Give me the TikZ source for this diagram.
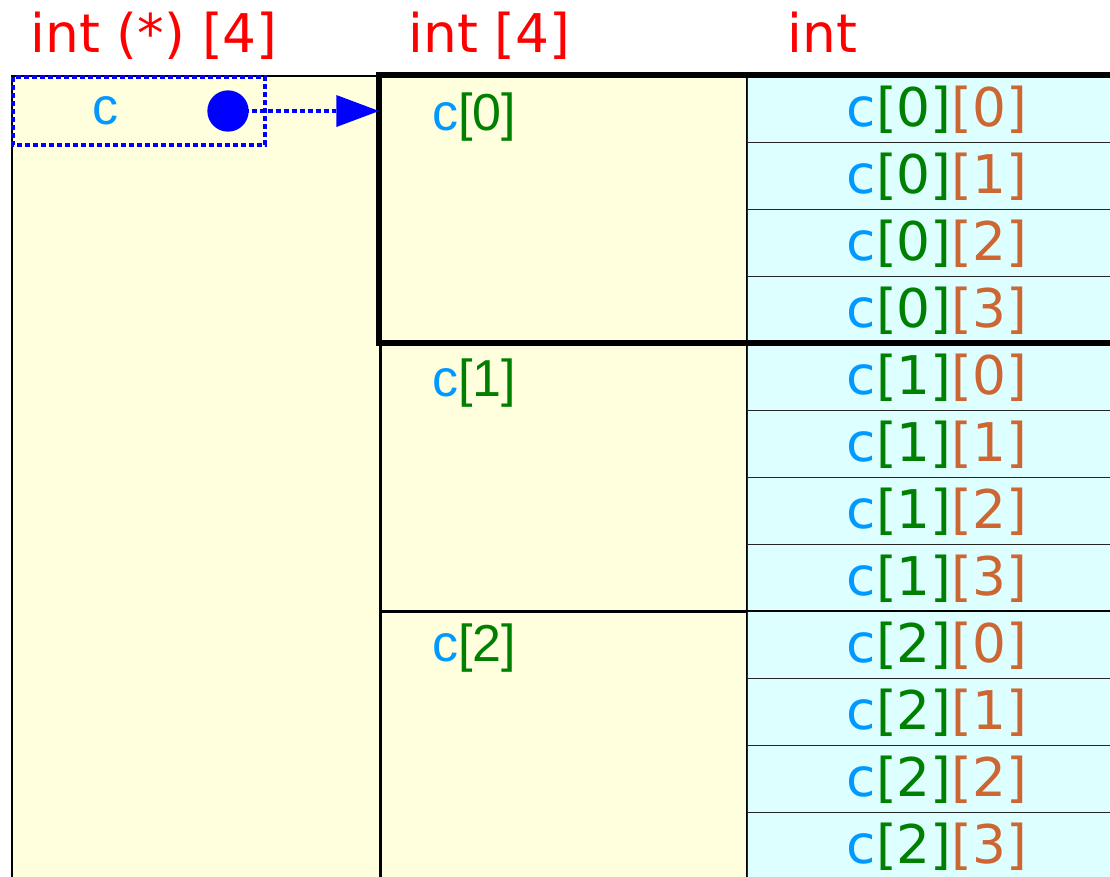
\documentclass[tikz,border=0pt]{standalone}
\usepackage{fontspec}
\setmainfont{DejaVu Sans}
\newfontfamily\arialfont{Liberation Sans}
\usetikzlibrary{arrows.meta}

\definecolor{typered}{RGB}{255,0,0}
\definecolor{namecol}{RGB}{0,153,255}
\definecolor{firstidx}{RGB}{0,128,0}
\definecolor{secondidx}{RGB}{204,102,51}
\definecolor{cellyellow}{RGB}{255,255,221}
\definecolor{cellcyan}{RGB}{221,255,255}
\definecolor{ptrblue}{RGB}{0,0,255}

\tikzset{every picture/.style={line width=0.75pt}}
\tikzset{
  typelabel/.style={anchor=base west, inner sep=0pt, text=typered, font=\fontsize{40}{42}\selectfont},
  rowlabel/.style={anchor=west, inner sep=0pt, font=\arialfont\fontsize{39}{41}\selectfont},
  elemlabel/.style={inner sep=0pt, font=\fontsize{40}{42}\selectfont},
  dotbox/.style={draw=ptrblue, line width=3.5pt, dash pattern=on 3.5pt off 2.5pt}
}

\begin{document}
\begin{tikzpicture}[x=0.75pt,y=0.75pt,yscale=-1,xscale=1]
\useasboundingbox (0,0) rectangle (1110,876);
\clip (0,0) rectangle (1110,876);

%Shape: Rectangle [id:left column]
\draw [fill=cellyellow, line width=1.5pt] (12,76) rectangle (380,900) ;

%Shape: Rectangle [id:middle column]
\draw [fill=cellyellow, line width=2.25pt] (380,75) rectangle (747,343) ;
\draw [fill=cellyellow, line width=2.25pt] (380,343) rectangle (747,611) ;
\draw [fill=cellyellow, line width=2.25pt] (380,611) rectangle (747,900) ;

%Shape: Rectangle [id:right column]
\foreach \i in {0,...,11}
  \draw [fill=cellcyan, draw=black!85] (747,75+67*\i) rectangle (1120,142+67*\i) ;
\draw [line width=2pt] (747,611) -- (1120,611) ;

%Shape: Rectangle [id:c0 block]
\draw [line width=4pt] (379,75) rectangle (1120,343) ;

% Text Node
\node [typelabel] (tptr) at (30,52) {int (*) [4]};
% Text Node
\node [typelabel] (tarr) at (408,52) {int [4]};
% Text Node
\node [typelabel] (tint) at (787,52) {int};

% Text Node
\node [rowlabel] (row0) at (432,117) {\textcolor{namecol}{c}\textcolor{firstidx}{[0]}};
% Text Node
\node [rowlabel] (row1) at (432,383) {\textcolor{namecol}{c}\textcolor{firstidx}{[1]}};
% Text Node
\node [rowlabel] (row2) at (432,648) {\textcolor{namecol}{c}\textcolor{firstidx}{[2]}};

% Text Node
\foreach \i in {0,1,2}
  \foreach \j in {0,...,3}
    \node [elemlabel] (el\i\j) at (937,110+268*\i+67*\j)
      {\textcolor{namecol}{c}\textcolor{firstidx}{[\i]}\textcolor{secondidx}{[\j]}};

%Shape: Rectangle [id:pointer c]
\draw [dotbox] (13,77) rectangle (265,145) ;
% Text Node
\node [rowlabel, anchor=center, text=namecol] (ptrname) at (105,111) {c};
%Shape: Circle [id:pointer dot]
\node [circle, fill=ptrblue, inner sep=0pt, minimum size=31] (ptrdot) at (228,111) {};
\coordinate (ptrtip) at (379,111);

%Straight Lines [id:pointer arrow]
\draw [dotbox, -{Triangle[length=32pt, width=24pt, line width=0pt, sep=0pt]}] (ptrdot.center) -- (ptrtip) ;

\end{tikzpicture}
\end{document}
